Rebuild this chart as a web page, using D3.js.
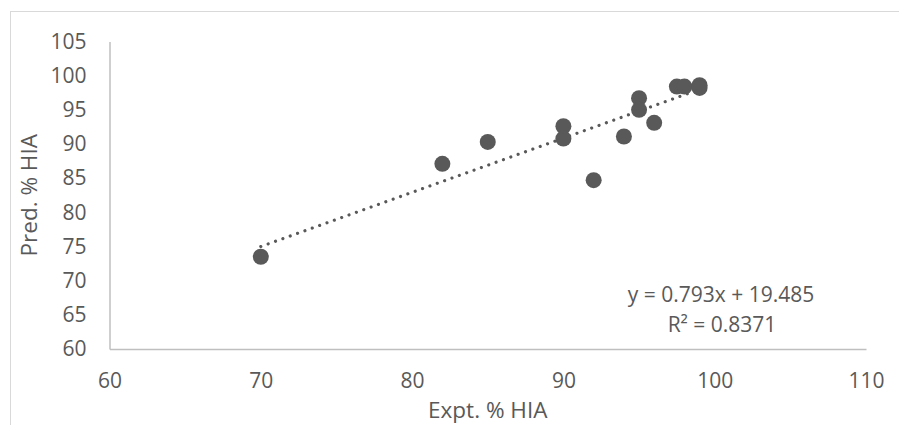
<!DOCTYPE html>
<html>
<head>
<meta charset="utf-8">
<script src="https://cdn.jsdelivr.net/npm/d3@7"></script>
<style>
  body { margin: 0; background: #fff; }
  text { font-family: "Open Sans", sans-serif; fill: #595959; }
</style>
</head>
<body>
<div id="canvas"></div>
<script>
"use strict"

let svgWidth = 899;
let svgHeight = 425;

/* Expt. % HIA vs Pred. % HIA : dataset */
let expt = [70, 82, 85, 90, 90, 92, 94, 95, 95, 96, 97.5, 98, 99, 99];
let pred = [73.5, 87.1, 90.3, 92.6, 90.8, 84.7, 91.1, 96.7, 95.0, 93.1, 98.4, 98.4, 98.6, 98.2];

let xTicks = [60, 70, 80, 90, 100, 110];
let yTicks = [60, 65, 70, 75, 80, 85, 90, 95, 100, 105];

/* trendline from the picture */
let slope = 0.793;
let intercept = 19.485;
let eqLabel = "y = 0.793x + 19.485";
let r2Label = "R² = 0.8371";

let plot = {left: 109.5, right: 866, top: 41.5, bottom: 349};

let svg = d3.select("#canvas")
    .append("svg")
    .attr("width", svgWidth)
    .attr("height", svgHeight);

/* chart area border (cut off at right and bottom) */
svg.append("rect")
    .attr("x", 10.5)
    .attr("y", 11.5)
    .attr("width", 900)
    .attr("height", 430)
    .attr("fill", "none")
    .attr("stroke", "#d9d9d9");

/* Scales */
let xScale = d3.scaleLinear()
    .domain([60, 110])
    .range([plot.left, plot.right]);

let yScale = d3.scaleLinear()
    .domain([60, 105])
    .range([plot.bottom, plot.top]);

/* Axes */
let xAxis = svg.append("g")
    .attr("transform", "translate(0," + plot.bottom + ")")
    .call(d3.axisBottom(xScale).tickValues(xTicks).tickSize(0).tickPadding(39));

let yAxis = svg.append("g")
    .attr("transform", "translate(" + plot.left + ",0)")
    .call(d3.axisLeft(yScale).tickValues(yTicks).tickSize(0).tickPadding(23));

[xAxis, yAxis].forEach(function(ax){
    ax.select(".domain")
      .attr("stroke", "#bfbfbf")
      .attr("stroke-width", 1.5);
    ax.selectAll("text")
      .attr("font-family", null)
      .attr("fill", "#595959")
      .style("font-size", "21px");
});
xAxis.selectAll("text").attr("dy", "0");

/* trendline (dotted) */
let xMin = d3.min(expt);
let xMax = d3.max(expt);
svg.append("line")
    .attr("x1", xScale(xMin))
    .attr("y1", yScale(slope * xMin + intercept))
    .attr("x2", xScale(xMax))
    .attr("y2", yScale(slope * xMax + intercept))
    .attr("stroke", "#595959")
    .attr("stroke-width", 3.2)
    .attr("stroke-linecap", "round")
    .attr("stroke-dasharray", "0.01 7.8");

/* Circles */
svg.selectAll("circle.dataPoint")
    .data(d3.range(expt.length))
    .join("circle")
    .attr("class", "dataPoint")
    .attr("cx", i => xScale(expt[i]))
    .attr("cy", i => yScale(pred[i]))
    .attr("r", 8)
    .attr("fill", "#595959");

/* equation */
svg.append("text")
    .attr("x", 721)
    .attr("y", 302)
    .attr("text-anchor", "middle")
    .style("font-size", "21px")
    .text(eqLabel);

svg.append("text")
    .attr("x", 722)
    .attr("y", 332)
    .attr("text-anchor", "middle")
    .style("font-size", "21px")
    .text(r2Label);

/* Axis labels */
svg.append("text")
    .attr("x", (plot.left + plot.right) / 2)
    .attr("y", 418)
    .attr("text-anchor", "middle")
    .style("font-size", "22.5px")
    .text("Expt. % HIA");

svg.append("text")
    .attr("transform", "rotate(-90)")
    .attr("x", -(plot.top + plot.bottom) / 2)
    .attr("y", 37)
    .attr("text-anchor", "middle")
    .style("font-size", "22.5px")
    .text("Pred. % HIA");
</script>
</body>
</html>
